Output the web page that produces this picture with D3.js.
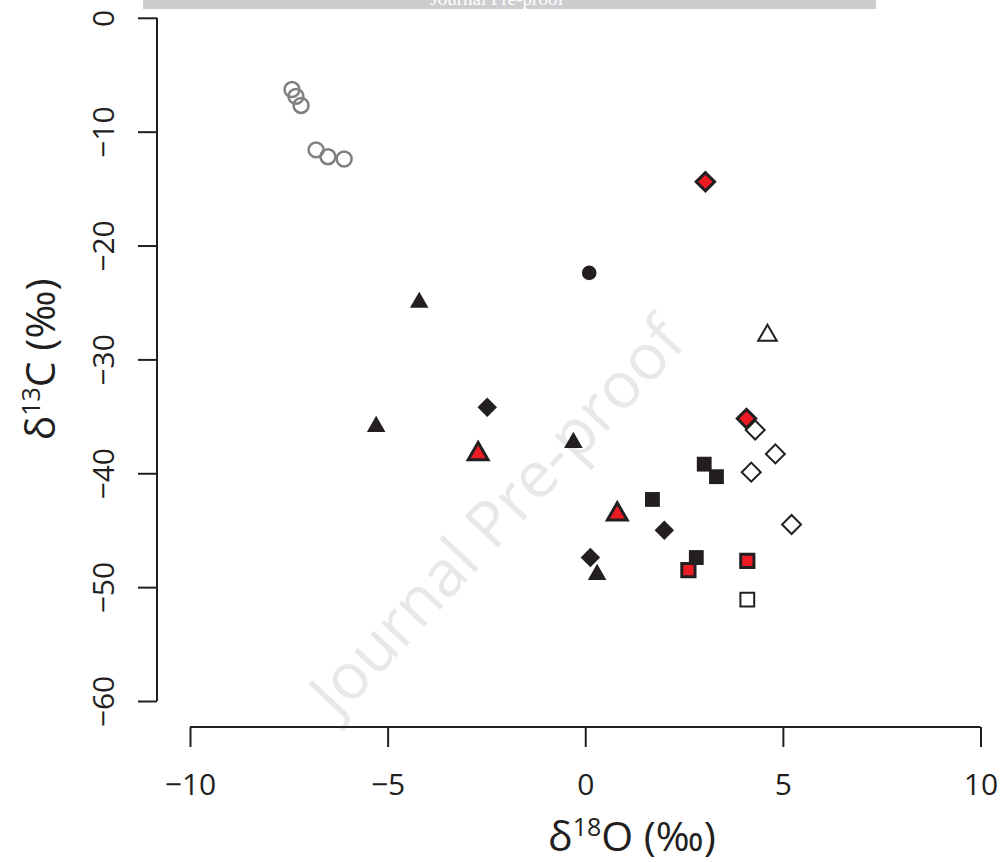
<!DOCTYPE html>
<html>
<head>
<meta charset="utf-8">
<script src="https://cdn.jsdelivr.net/npm/d3@7"></script>
<style>
  html, body { margin: 0; padding: 0; background: #fff; }
  svg { display: block; }
</style>
</head>
<body>
<svg id="chart" width="1000" height="862"></svg>
<script>
// ---- data (δ18O, δ13C in ‰) ----
const xTicks = [-10, -5, 0, 5, 10];
const yTicks = [0, -10, -20, -30, -40, -50, -60];

const grayCircleX = [-7.42, -7.32, -7.19, -6.81, -6.51, -6.10];
const grayCircleY = [-6.3, -6.9, -7.7, -11.6, -12.2, -12.4];

const blackCircleX = [0.10];
const blackCircleY = [-22.4];

const blackTriangleX = [-4.20, -5.29, -0.30, 0.30];
const blackTriangleY = [-25.0, -35.9, -37.3, -48.9];

const redTriangleX = [-2.71, 0.81];
const redTriangleY = [-38.3, -43.6];

const openTriangleX = [4.61];
const openTriangleY = [-27.9];

const blackDiamondX = [-2.48, 0.13, 2.00];
const blackDiamondY = [-34.2, -47.4, -45.0];

const openDiamondX = [4.30, 4.81, 4.20, 5.22];
const openDiamondY = [-36.2, -38.3, -39.9, -44.5];

const redDiamondX = [3.04, 4.08];
const redDiamondY = [-14.4, -35.2];

const blackSquareX = [1.70, 3.01, 3.32, 2.81];
const blackSquareY = [-42.3, -39.2, -40.3, -47.4];

const redSquareX = [2.61, 4.10];
const redSquareY = [-48.5, -47.7];

const openSquareX = [4.10];
const openSquareY = [-51.1];

// ---- drawing ----
const svg = d3.select("#chart");
const BLACK = "#231f20", RED = "#ed1c24", GRAY = "#808080";
const FONT = "'Open Sans', 'Noto Sans', sans-serif";

const x = d3.scaleLinear().domain([-10, 10]).range([190, 980.5]);
const y = d3.scaleLinear().domain([0, -60]).range([17.8, 701]);

// watermark
svg.append("text")
  .attr("transform", "translate(495,515) rotate(-47)")
  .attr("text-anchor", "middle")
  .attr("dominant-baseline", "central")
  .attr("font-family", FONT)
  .attr("font-size", 64)
  .attr("fill", "#e8e8e8")
  .text("Journal Pre-proof");

// top banner
svg.append("rect").attr("x", 143).attr("y", 0).attr("width", 733).attr("height", 9)
  .attr("fill", "#cdcdcf");
svg.append("text").attr("x", 497).attr("y", 5)
  .attr("text-anchor", "middle")
  .attr("font-family", "'Liberation Serif', 'DejaVu Serif', serif")
  .attr("font-size", 19).attr("fill", "#fff")
  .text("Journal Pre-proof");

// axes
const fmt = d => d3.format("")(d).replace("-", "\u2212");
const xAxis = d3.axisBottom(x).tickValues(xTicks).tickSize(20).tickPadding(27).tickFormat(fmt);
const gx = svg.append("g").attr("transform", "translate(0,727)").call(xAxis);
const yAxis = d3.axisLeft(y).tickValues(yTicks).tickSize(19).tickPadding(8).tickFormat(fmt);
const gy = svg.append("g").attr("transform", "translate(157,0)").call(yAxis);

[gx, gy].forEach(g => {
  g.select(".domain").attr("stroke", BLACK).attr("stroke-width", 2);
  g.selectAll(".tick line").attr("stroke", BLACK).attr("stroke-width", 2);
  g.selectAll(".tick text").attr("fill", BLACK).attr("font-family", FONT).attr("font-size", 30);
});
gx.select(".domain").attr("d", `M${x(-10)},0H${x(10)}`);
gy.select(".domain").attr("d", `M0,${y(0)}V${y(-60)}`);
gy.selectAll(".tick text")
  .attr("text-anchor", "middle")
  .attr("dominant-baseline", "central")
  .attr("x", 0).attr("dy", null)
  .attr("transform", "translate(-55,0) rotate(-90)");
gx.selectAll(".tick text").attr("dy", "0.71em");

// axis titles
const xt = svg.append("text").attr("x", 632).attr("y", 851)
  .attr("text-anchor", "middle").attr("font-family", FONT).attr("font-size", 41).attr("fill", BLACK);
xt.append("tspan").text("\u03B4");
xt.append("tspan").attr("font-size", 25).attr("dy", -15).text("18");
xt.append("tspan").attr("dy", 15).text("O (\u2030)");

const yt = svg.append("text").attr("transform", `translate(55,${y(-30)}) rotate(-90)`)
  .attr("text-anchor", "middle").attr("font-family", FONT).attr("font-size", 41).attr("fill", BLACK);
yt.append("tspan").text("\u03B4");
yt.append("tspan").attr("font-size", 25).attr("dy", -15).text("13");
yt.append("tspan").attr("dy", 15).text("C (\u2030)");

// markers
const plot = svg.append("g");
function draw(xs, ys, type, size, fill, stroke, sw, rot) {
  plot.selectAll(null).data(xs.map((v, i) => [v, ys[i]])).enter()
    .append("path")
    .attr("d", d3.symbol().type(type).size(size))
    .attr("transform", d => `translate(${x(d[0])},${y(d[1])})` + (rot ? ` rotate(${rot})` : ""))
    .attr("fill", fill)
    .attr("stroke", stroke)
    .attr("stroke-width", sw);
}
draw(grayCircleX, grayCircleY, d3.symbolCircle, 175, "none", GRAY, 2.5);
draw(blackCircleX, blackCircleY, d3.symbolCircle, 170, BLACK, "none", 0);
draw(blackTriangleX, blackTriangleY, d3.symbolTriangle, 150, BLACK, "none", 0);
draw(openTriangleX, openTriangleY, d3.symbolTriangle, 150, "#fff", BLACK, 2);
draw(blackDiamondX, blackDiamondY, d3.symbolSquare, 190, BLACK, "none", 0, 45);
draw(openDiamondX, openDiamondY, d3.symbolSquare, 180, "#fff", BLACK, 2, 45);
draw(redDiamondX, redDiamondY, d3.symbolSquare, 170, RED, BLACK, 3, 45);
draw(blackSquareX, blackSquareY, d3.symbolSquare, 220, BLACK, "none", 0);
draw(redSquareX, redSquareY, d3.symbolSquare, 175, RED, BLACK, 3);
draw(openSquareX, openSquareY, d3.symbolSquare, 190, "#fff", BLACK, 2);
draw(redTriangleX, redTriangleY, d3.symbolTriangle, 170, RED, BLACK, 3);
</script>
</body>
</html>
